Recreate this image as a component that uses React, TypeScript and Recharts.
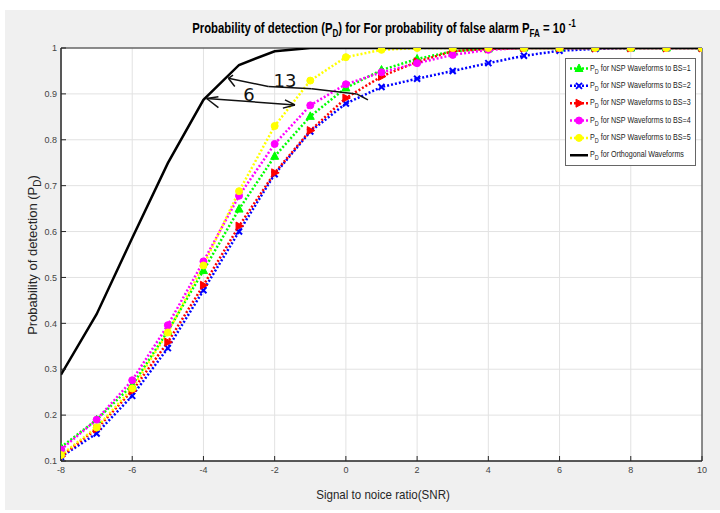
import {
  LineChart,
  Line,
  XAxis,
  YAxis,
  CartesianGrid,
  ReferenceArea,
  ReferenceLine,
  ReferenceDot,
} from "recharts";

// SNR axis (dB)
const SNR = [-8, -7, -6, -5, -4, -3, -2, -1, 0, 1, 2, 3, 4, 5, 6, 7, 8, 9, 10];

// P_D for NSP waveforms, per number of BS
const BS1 = [0.13, 0.19, 0.265, 0.383, 0.515, 0.649, 0.764, 0.851, 0.913, 0.952, 0.976, 0.993, 0.998, 1, 1, 1, 1, 1, 1];
const BS2 = [0.109, 0.16, 0.242, 0.346, 0.472, 0.6, 0.725, 0.818, 0.879, 0.915, 0.933, 0.95, 0.967, 0.983, 0.994, 0.998, 1, 1, 1];
const BS3 = [0.11, 0.17, 0.253, 0.359, 0.483, 0.612, 0.728, 0.82, 0.891, 0.938, 0.97, 0.993, 0.998, 1, 1, 1, 1, 1, 1];
const BS4 = [0.125, 0.19, 0.276, 0.396, 0.535, 0.678, 0.791, 0.875, 0.921, 0.947, 0.967, 0.985, 0.996, 1, 1, 1, 1, 1, 1];
const BS5 = [0.113, 0.173, 0.258, 0.38, 0.526, 0.688, 0.83, 0.929, 0.98, 0.996, 1, 1, 1, 1, 1, 1, 1, 1, 1];
// orthogonal waveforms
const ORTH = [0.288, 0.42, 0.586, 0.749, 0.887, 0.963, 0.993, 1, 1, 1, 1, 1, 1, 1, 1, 1, 1, 1, 1];

const X_TICKS = [-8, -6, -4, -2, 0, 2, 4, 6, 8, 10];
const Y_TICKS = [0.1, 0.2, 0.3, 0.4, 0.5, 0.6, 0.7, 0.8, 0.9, 1];

// hand drawn notes on the figure (data coords)
const NOTE_LINES: [number, number, number, number][] = [
  // "6" double arrow
  [-3.91, 0.89, -1.43, 0.876],
  [-3.91, 0.89, -3.58, 0.894],
  [-3.91, 0.89, -3.58, 0.87],
  [-1.43, 0.876, -1.71, 0.887],
  [-1.43, 0.876, -1.77, 0.869],
  // "13" arrow
  [-3.3, 0.934, -2.18, 0.916],
  [-2.18, 0.916, -0.96, 0.911],
  [-0.96, 0.911, 0.3, 0.9],
  [0.3, 0.9, 0.62, 0.887],
  [-3.3, 0.934, -3.17, 0.941],
  [-3.3, 0.934, -3.12, 0.916],
];
const NOTE_TEXT: [number, number, string][] = [
  [-1.71, 0.928, "13"],
  [-2.72, 0.898, "6"],
];

type MarkerType = "triUp" | "x" | "triRight" | "circle" | "none";

const SERIES: { key: string; name: string; color: string; marker: MarkerType; values: number[] }[] = [
  { key: "bs1", name: " for NSP Waveforms to BS=1", color: "#00ff00", marker: "triUp", values: BS1 },
  { key: "bs2", name: " for NSP Waveforms to BS=2", color: "#0000ff", marker: "x", values: BS2 },
  { key: "bs3", name: " for NSP Waveforms to BS=3", color: "#ff0000", marker: "triRight", values: BS3 },
  { key: "bs4", name: " for NSP Waveforms to BS=4", color: "#ff00ff", marker: "circle", values: BS4 },
  { key: "bs5", name: " for NSP Waveforms to BS=5", color: "#ffff00", marker: "circle", values: BS5 },
  { key: "orth", name: " for Orthogonal Waveforms", color: "#000000", marker: "none", values: ORTH },
];

const data = SNR.map((snr, i) => {
  const row: Record<string, number> = { snr };
  SERIES.forEach((s) => (row[s.key] = s.values[i]));
  return row;
});

function Marker({ cx, cy, type, color }: { cx?: number; cy?: number; type: MarkerType; color: string }) {
  if (cx == null || cy == null) return null;
  switch (type) {
    case "triUp":
      return <polygon points={`${cx},${cy - 4.5} ${cx - 4},${cy + 3} ${cx + 4},${cy + 3}`} fill={color} stroke={color} />;
    case "triRight":
      return <polygon points={`${cx + 4.5},${cy} ${cx - 3},${cy - 4} ${cx - 3},${cy + 4}`} fill={color} stroke={color} />;
    case "x":
      return (
        <g stroke={color} strokeWidth={2}>
          <line x1={cx - 3} y1={cy - 3} x2={cx + 3} y2={cy + 3} />
          <line x1={cx - 3} y1={cy + 3} x2={cx + 3} y2={cy - 3} />
        </g>
      );
    case "circle":
      return <circle cx={cx} cy={cy} r={3.5} fill={color} stroke={color} />;
    default:
      return null;
  }
}

const FONT = "'Liberation Sans', Arial, sans-serif";
const TICK = { fontSize: 9, fill: "#444", fontFamily: FONT };

export default function App() {
  return (
    <div style={{ position: "absolute", left: 0, top: 0, width: 720, height: 513, background: "#fff" }}>
      <div style={{ position: "absolute", left: 5, top: 10, width: 715, height: 500, background: "#f0f0f0" }} />
      <div style={{ position: "absolute", left: 0, top: 0 }}>
        <LineChart width={720} height={513} data={data} margin={{ top: 48, right: 18, bottom: 0, left: 0 }}>
          <CartesianGrid stroke="#e2e2e2" fill="#fff" />
          <XAxis
            dataKey="snr"
            type="number"
            domain={[-8, 10]}
            ticks={X_TICKS}
            height={52}
            tick={TICK}
            tickSize={-5}
            tickMargin={11}
            stroke="#262626"
            allowDataOverflow
          />
          <YAxis
            type="number"
            domain={[0.1, 1]}
            ticks={Y_TICKS}
            width={61}
            tick={TICK}
            tickSize={-5}
            tickMargin={9}
            stroke="#262626"
            allowDataOverflow
          />
          <ReferenceArea x1={-8} x2={10} y1={0.1} y2={1} fill="none" stroke="#262626" strokeWidth={1} />
          {SERIES.map((s) => (
            <Line
              key={s.key}
              dataKey={s.key}
              stroke={s.color}
              strokeWidth={2.5}
              strokeDasharray={s.marker === "none" ? undefined : "2 2"}
              isAnimationActive={false}
              dot={(p: any) => <Marker key={`${s.key}-${p.index}`} cx={p.cx} cy={p.cy} type={s.marker} color={s.color} />}
              activeDot={false}
            />
          ))}
          {NOTE_LINES.map(([x1, y1, x2, y2], i) => (
            <ReferenceLine
              key={`n${i}`}
              segment={[{ x: x1, y: y1 }, { x: x2, y: y2 }]}
              stroke="#111"
              strokeWidth={1.5}
            />
          ))}
          {NOTE_TEXT.map(([x, y, t]) => (
            <ReferenceDot
              key={t}
              x={x}
              y={y}
              r={0}
              stroke="none"
              label={{ value: t, position: "center", fontSize: 18, fill: "#111", fontFamily: "'DejaVu Sans', sans-serif" }}
            />
          ))}
        </LineChart>
      </div>
      <svg width={720} height={513} style={{ position: "absolute", left: 0, top: 0, pointerEvents: "none" }} fontFamily={FONT}>
        <g transform="translate(384,33) scale(0.81,1)">
          <text x={0} y={0} textAnchor="middle" fontWeight="bold" fontSize={14} fill="#000">
            Probability of detection (P<tspan dy={4} fontSize={10}>D</tspan>
            <tspan dy={-4}>) for For probability of false alarm P</tspan>
            <tspan dy={4} fontSize={10}>FA</tspan>
            <tspan dy={-4}> = 10 </tspan>
            <tspan dy={-6} fontSize={10}>-1</tspan>
          </text>
        </g>
        <g transform="translate(383,499) scale(0.89,1)">
          <text x={0} y={0} textAnchor="middle" fontSize={13} fill="#262626">
            Signal to noice ratio(SNR)
          </text>
        </g>
        <text transform="translate(37,255) rotate(-90)" textAnchor="middle" fontSize={13} fill="#262626">
          Probability of detection (P<tspan dy={4} fontSize={10}>D</tspan>
          <tspan dy={-4}>)</tspan>
        </text>
        <rect x={565.5} y={58.5} width={130} height={107} fill="#fff" stroke="#666" />
        {SERIES.map((s, i) => {
          const y = 68.5 + i * 17.35;
          return (
            <g key={s.key}>
              <line
                x1={570}
                x2={588}
                y1={y}
                y2={y}
                stroke={s.color}
                strokeWidth={2.5}
                strokeDasharray={s.marker === "none" ? undefined : "2 2"}
              />
              <Marker cx={579} cy={y} type={s.marker} color={s.color} />
              <g transform={`translate(590,${y + 2}) scale(0.84,1)`}>
                <text x={0} y={0} fontSize={8.5} fill="#222">
                  P<tspan dy={3} fontSize={6.5}>D</tspan>
                  <tspan dy={-3}>{s.name}</tspan>
                </text>
              </g>
            </g>
          );
        })}
      </svg>
    </div>
  );
}
